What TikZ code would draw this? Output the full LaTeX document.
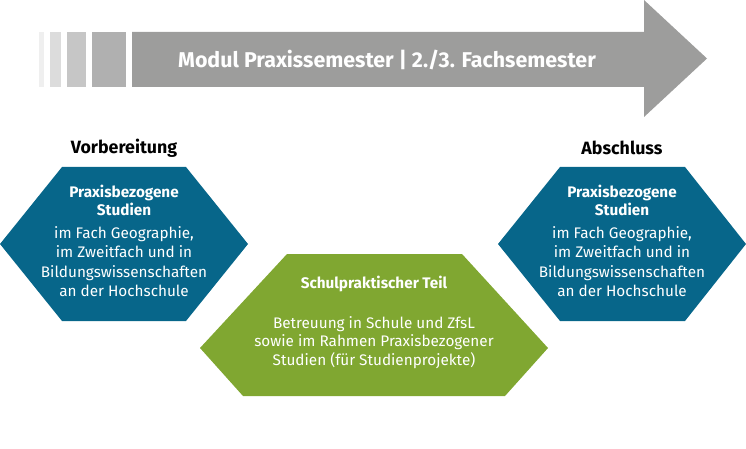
\documentclass[tikz,border=0pt]{standalone}
\usepackage{fontspec}
\setmainfont{Fira Sans}
\definecolor{hexblue}{HTML}{07668A}
\definecolor{hexgreen}{HTML}{80A731}
\definecolor{arrowgray}{HTML}{9D9D9C}
\begin{document}
\begin{tikzpicture}[x=1pt,y=-1pt,
  lbl/.style={font=\fontsize{17.8}{20}\selectfont\bfseries, text=black},
  hextext/.style={font=\fontsize{15.3}{19.5}\selectfont, text=white, align=center, inner sep=0pt},
  gtext/.style={font=\fontsize{15.3}{18.5}\selectfont, text=white, align=center, inner sep=0pt},
  title/.style={font=\fontsize{21.4}{24}\selectfont\bfseries, text=white}]
\useasboundingbox (0,0) rectangle (746,449);
% arrow strips
\fill[fill={rgb,255:red,239;green,239;blue,239}] (39,32) rectangle (44,87);
\fill[fill={rgb,255:red,220;green,220;blue,220}] (50,32) rectangle (61,87);
\fill[fill={rgb,255:red,198;green,198;blue,198}] (67,32) rectangle (86,87);
\fill[fill={rgb,255:red,176;green,176;blue,176}] (92,32) rectangle (126,87);
\fill[arrowgray] (132,32) -- (644,32) -- (644,0) -- (707,58.5) -- (644,117) -- (644,87) -- (132,87) -- cycle;
\node[title] (ttl) at (387,59.5) {Modul Praxissemester | 2./3. Fachsemester};
% hexagons
\fill[hexblue] (62,167) -- (186,167) -- (248,244) -- (186,321) -- (62,321) -- (0,244) -- cycle;
\fill[hexblue] (560,167) -- (685,167) -- (746,244) -- (685,321) -- (560,321) -- (498,244) -- cycle;
\fill[hexgreen] (287,254) -- (462,254) -- (548,348) -- (505,396) -- (243,396) -- (200,348) -- cycle;
\node[lbl] (vor) at (124,148) {Vorbereitung};
\node[lbl] (abs) at (622,148) {Abschluss};
\node[hextext, anchor=north] (lt) at (124,185) {\textbf{Praxisbezogene}\\[-1.5pt]\textbf{Studien}\\[3pt]im Fach Geographie,\\im Zweitfach und in\\Bildungswissenschaften\\an der Hochschule};
\node[hextext, anchor=north] (rt) at (622,185) {\textbf{Praxisbezogene}\\[-1.5pt]\textbf{Studien}\\[3pt]im Fach Geographie,\\im Zweitfach und in\\Bildungswissenschaften\\an der Hochschule};
\node[gtext, anchor=north] (gt) at (374,276) {\textbf{Schulpraktischer Teil}\\[21pt]Betreuung in Schule und ZfsL\\sowie im Rahmen Praxisbezogener\\Studien (für Studienprojekte)};
\end{tikzpicture}
\end{document}
